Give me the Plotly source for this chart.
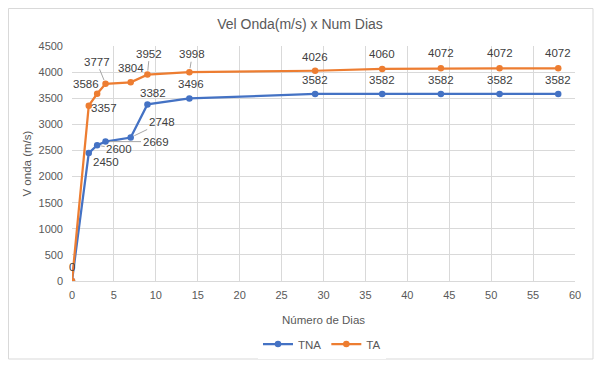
import plotly.graph_objects as go

dias = [0, 2, 3, 4, 7, 9, 14, 29, 37, 44, 51, 58]
tna = [0, 2450, 2600, 2669, 2748, 3382, 3496, 3582, 3582, 3582, 3582, 3582]
ta = [0, 3357, 3586, 3777, 3804, 3952, 3998, 4026, 4060, 4072, 4072, 4072]

BLUE = "#4472C4"
ORANGE = "#ED7D31"
FONT = "Liberation Sans"
TXT = "#404040"
GRAY = "#595959"

# figure is placed at an 8px page offset, so size/margins are in figure coords
W, H = 596, 365
L, R, T, B = 64, 29, 38, 92
PW, PH = W - L - R, H - T - B

# label offsets in pixels (dx, dy-down), leader flag
ta_lbl = [(0, -14, False), (15, 2, False), (-11, -10, False), (-9, -22, True),
          (0, -14, False), (2, -21, True), (3, -18, True), (0, -14, False),
          (0, -15, False), (0, -15, False), (0, -15, False), (0, -15, False)]
tna_lbl = [None, (17, 9, False), (22, 4, True), (50, 0, True), (31, -15, True),
           (6, -11, False), (2, -14, False), (0, -14, False), (0, -14, False),
           (0, -14, False), (0, -14, False), (0, -14, False)]

fig = go.Figure()
fig.add_trace(go.Scatter(x=dias, y=tna, name="TNA", mode="lines+markers",
                         line=dict(color=BLUE, width=2.25),
                         marker=dict(color=BLUE, size=6.5)))
fig.add_trace(go.Scatter(x=dias, y=ta, name="TA", mode="lines+markers",
                         line=dict(color=ORANGE, width=2.25),
                         marker=dict(color=ORANGE, size=6.5)))

ann = []
for xs, ys, lbls in ((dias, ta, ta_lbl), (dias, tna, tna_lbl)):
    for x, y, l in zip(xs, ys, lbls):
        if l is None:
            continue
        dx, dy, lead = l
        if lead:
            ann.append(dict(x=x, y=y, text=str(y), showarrow=True, arrowhead=0,
                            arrowwidth=1, arrowcolor="#a6a6a6", ax=dx, ay=dy,
                            standoff=4, font=dict(family=FONT, size=11.5, color=TXT)))
        else:
            ann.append(dict(x=x, y=y, text=str(y), showarrow=False,
                            xshift=dx, yshift=-dy,
                            font=dict(family=FONT, size=11.5, color=TXT)))

# y-axis title as annotation for precise placement
ann.append(dict(xref="paper", yref="paper", x=(18 - L) / PW, y=0.5,
                text="V onda (m/s)", textangle=-90, showarrow=False,
                xanchor="center", yanchor="middle",
                font=dict(family=FONT, size=11.5, color=GRAY)))

fig.update_layout(
    width=W, height=H,
    margin=dict(l=L, r=R, t=T, b=B, autoexpand=False),
    paper_bgcolor="white", plot_bgcolor="white",
    font=dict(family=FONT, size=11, color=GRAY),
    title=dict(text="Vel Onda(m/s) x Num Dias", x=292 / W, xanchor="center",
               y=1 - 16 / H, yanchor="middle",
               font=dict(family=FONT, size=14, color=GRAY)),
    xaxis=dict(range=[0, 60], dtick=5, showgrid=True, gridcolor="#d9d9d9",
               zeroline=False, showline=True, linecolor="#d9d9d9",
               ticks="", tickfont=dict(size=11, color=GRAY),
               ticklabelstandoff=4,
               title=dict(text="Número de Dias", standoff=15,
                          font=dict(size=11.5, color=GRAY))),
    yaxis=dict(range=[0, 4500], dtick=500, showgrid=True, gridcolor="#d9d9d9",
               zeroline=False, showline=False, ticks="",
               ticklabelstandoff=8,
               tickfont=dict(size=11, color=GRAY)),
    legend=dict(orientation="h", x=0.497, xanchor="center",
                y=(273 - 336) / PH, yanchor="middle",
                font=dict(size=11.5, color=GRAY)),
    annotations=ann,
    shapes=[dict(type="rect", xref="paper", yref="paper",
                 x0=(0.5 - L) / PW, x1=(585 - L) / PW,
                 y0=(273 - 351) / PH, y1=(273 - 0.5) / PH,
                 line=dict(color="#d9d9d9", width=1))],
)

fig.write_html("out.html")
